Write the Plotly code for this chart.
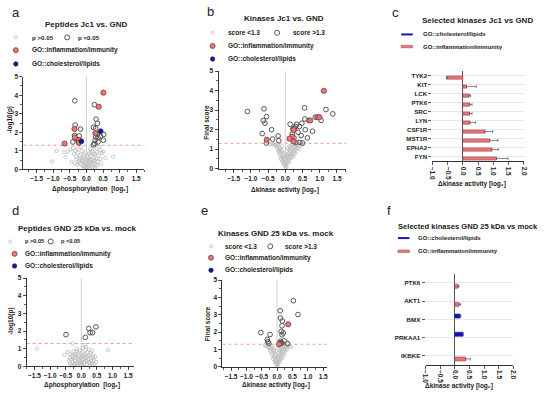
import plotly.graph_objects as go

W, H = 550, 397
FONT = "Liberation Sans"
TXT = "#222222"
AX = "#333333"
RED = "#E8767A"
RED_EDGE = "#7a3a3a"
BLUE = "#1414B4"
NS = "#C2C2C2"
SIG = "#555555"
THRESH = 1.3

# ---------------- panel a : Peptides Jc1 vs. GND ----------------
a_ns_x = [-1.04, -0.90, -0.68, -0.56, -0.63, -0.45, 0.80, 0.57, 0.47, 0.40, -0.28, -0.48,
          -0.38, -0.32, -0.30, -0.25, -0.22, -0.20, -0.18, -0.15, -0.14, -0.12, -0.10, -0.08,
          -0.06, -0.05, -0.03, -0.02, 0.00, 0.01, 0.03, 0.04, 0.06, 0.07, 0.08, 0.10, 0.11,
          0.12, 0.14, 0.15, 0.17, 0.18, 0.20, 0.21, 0.23, 0.24, 0.26, 0.28, 0.30, 0.32, 0.34,
          0.36, 0.38, 0.42, 0.44, -0.35, -0.40, -0.27, -0.16, -0.09, -0.04, 0.02, 0.05, 0.09,
          0.13, -0.11, -0.07, 0.16, 0.19, 0.22, -0.21, -0.24, 0.27, 0.31, -0.33, 0.50, -0.02,
          0.06, -0.13, 0.25]
a_ns_y = [0.42, 0.99, 0.92, 0.95, 0.65, 0.40, 0.69, 0.60, 0.88, 1.04, 1.09, 1.06,
          0.82, 0.70, 0.55, 0.90, 0.45, 0.75, 0.30, 0.60, 1.00, 0.20, 0.45, 0.80,
          0.10, 0.35, 0.55, 0.15, 0.05, 0.30, 0.60, 0.12, 0.40, 0.85, 0.22, 0.55, 1.10,
          0.35, 0.70, 0.15, 0.50, 0.95, 0.30, 0.65, 0.45, 1.15, 0.80, 0.25, 0.60, 0.95, 0.40,
          0.72, 1.20, 0.55, 0.30, 0.30, 1.15, 0.25, 1.20, 0.65, 0.90, 0.75, 0.50, 0.05,
          0.90, 0.35, 0.18, 0.38, 0.10, 0.85, 0.58, 0.38, 0.48, 0.20, 1.00, 0.95, 0.42,
          0.25, 0.52, 0.05]
a_sig_x = [-0.35, 0.24, 0.29, 0.33, -0.34, 0.21, 0.28, -0.18, -0.36, -0.22, 0.32, 0.52,
           0.28, 0.35, 0.42, 0.51, -0.41, -0.25, 0.26, 0.35, 0.25, 0.21, -0.33]
a_sig_y = [3.70, 3.49, 2.71, 2.48, 2.39, 2.27, 2.22, 2.17, 1.83, 1.80, 1.88, 1.88,
           1.74, 1.71, 1.78, 1.57, 1.48, 1.58, 1.57, 1.48, 1.39, 1.32, 1.65]
a_inf_x = [0.51, 0.37, -0.36, -0.35, 0.27, -0.22, -0.23, -0.66]
a_inf_y = [4.14, 3.38, 2.18, 1.73, 1.95, 1.58, 1.43, 1.39]
a_lip_x = [-0.15, 0.43]
a_lip_y = [1.51, 2.06]

# ---------------- panel b : Kinases Jc1 vs. GND ----------------
b_ns_x = [0.00, 0.02, -0.02, 0.04, -0.04, 0.05, -0.05, 0.07, -0.07, 0.08, -0.08, 0.10, -0.10,
          0.12, -0.12, 0.13, -0.14, 0.15, -0.15, 0.17, -0.17, 0.18, -0.19, 0.20, -0.21, 0.22,
          -0.23, 0.24, -0.25, 0.26, -0.28, 0.28, 0.30, -0.30, 0.32, 0.35, -0.35, 0.38, -0.40,
          0.01, -0.01, 0.03, 0.06, -0.06, 0.09, -0.09, 0.11, -0.11, 0.14, -0.13, 0.16, 0.19,
          0.21, 0.23, 0.25, 0.27, 0.29, 0.31, 0.40, 0.45, 0.50, -0.20, -0.16, 0.00, -0.03,
          0.02, 0.05, -0.05, 0.08, -0.10, 0.12, 0.35, -0.45]
b_ns_y = [0.15, 0.25, 0.30, 0.40, 0.35, 0.55, 0.50, 0.70, 0.60, 0.45, 0.75, 0.80, 0.90,
          0.95, 0.80, 0.60, 1.00, 1.05, 0.70, 0.85, 1.10, 1.20, 0.95, 1.00, 1.20, 1.25,
          1.05, 0.90, 1.15, 1.10, 1.25, 1.20, 1.00, 1.20, 1.15, 1.25, 1.28, 1.20, 1.28,
          0.05, 0.20, 0.10, 0.30, 0.25, 0.60, 0.40, 0.35, 0.60, 0.70, 0.50, 0.55, 0.75,
          0.70, 0.60, 0.80, 0.95, 0.80, 1.25, 1.00, 1.20, 1.25, 0.85, 0.90, 0.45, 0.60,
          0.65, 0.90, 0.80, 1.05, 1.15, 1.15, 1.05, 1.25]
b_sig_x = [-1.10, -0.62, -0.54, -0.64, -0.59, -0.40, -0.67, -0.21, -0.37, -0.55,
           -0.19, 0.56, 1.18, 1.38, 0.57, 0.68, 0.48, 0.33, 0.14, 0.41,
           0.26, 0.30, 0.22, 0.37, 0.58, 0.79, 1.04, 0.87, 0.46, 0.64,
           0.42, 0.50, 0.30, 0.20, 0.25]
b_sig_y = [2.93, 3.07, 2.67, 2.47, 2.33, 2.00, 1.80, 1.68, 1.52, 1.32,
           1.44, 3.12, 3.03, 2.81, 2.55, 2.47, 2.33, 2.28, 2.28, 2.16,
           2.07, 2.17, 2.04, 1.87, 2.00, 1.92, 2.48, 2.64, 1.70, 1.58,
           1.35, 1.32, 1.35, 1.78, 1.58]
b_inf_x = [1.12, 0.93, 0.99, 0.72, 0.24, 0.20, 0.12, 0.24, -0.54]
b_inf_y = [3.99, 2.64, 2.64, 2.47, 1.99, 1.64, 1.54, 1.40, 1.49]
b_lip_x = []
b_lip_y = []

# ---------------- panel c : Selected kinases Jc1 vs GND ----------------
c_kinases = ["TYK2", "KIT", "LCK", "PTK6", "SRC", "LYN", "CSF1R", "MST1R", "EPHA2", "FYN"]
c_values = [-0.53, 0.12, 0.20, 0.22, 0.22, 0.23, 0.72, 0.88, 0.95, 1.10]
c_err = [0.00, 0.32, 0.05, 0.08, 0.08, 0.18, 0.26, 0.27, 0.21, 0.38]
c_group = ["inflammation"] * 10

# ---------------- panel d : Peptides GND 25 kDa vs. mock ----------------
d_ns_x = [-1.43, 0.86, -0.28, -0.54, -0.43, 0.13, 0.36,
          -0.40, -0.38, -0.35, -0.33, -0.30, -0.28, -0.26, -0.24, -0.22, -0.20, -0.18, -0.16,
          -0.14, -0.12, -0.10, -0.08, -0.06, -0.04, -0.02, 0.00, 0.02, 0.04, 0.06, 0.08, 0.10,
          0.12, 0.14, 0.16, 0.18, 0.20, 0.22, 0.24, 0.26, 0.28, 0.30, 0.32, 0.34, 0.36, 0.38,
          0.40, 0.42, 0.44, -0.36, -0.25, -0.15, -0.05, 0.05, 0.15, 0.10, 0.00, -0.10, -0.20,
          0.25, 0.30, -0.32, -0.12, 0.03, 0.18, 0.27, -0.07, 0.08, 0.13, -0.17, -0.27, 0.35,
          0.21, -0.01, 0.47]
d_ns_y = [1.01, 0.92, 1.29, 0.66, 0.81, 1.23, 0.66,
          0.30, 0.50, 0.15, 0.40, 0.60, 0.25, 0.45, 0.10, 0.70, 0.35, 0.55, 0.20,
          0.85, 0.40, 0.05, 0.60, 0.30, 0.15, 0.50, 0.25, 0.75, 0.10, 0.40, 0.60, 0.20,
          0.95, 0.35, 0.55, 0.12, 0.80, 0.40, 0.25, 0.60, 0.05, 0.45, 0.30, 0.90, 0.20, 0.50,
          0.35, 0.15, 0.55, 0.70, 0.85, 1.00, 0.90, 1.05, 1.10, 0.70, 0.55, 0.75, 0.15,
          0.95, 0.75, 0.05, 0.22, 0.35, 0.30, 0.20, 0.45, 0.22, 0.48, 0.65, 0.55, 0.10,
          0.62, 0.08, 0.25]
d_sig_x = [-0.49, 0.13, 0.24, 0.28, 0.36, 0.47]
d_sig_y = [1.80, 1.65, 2.15, 1.91, 1.91, 2.24]
d_inf_x = []
d_inf_y = []
d_lip_x = []
d_lip_y = []

# ---------------- panel e : Kinases GND 25 kDa vs. mock ----------------
e_ns_x = [0.00, 0.02, -0.02, 0.03, -0.03, 0.05, -0.05, 0.06, -0.06, 0.08, -0.08, 0.09, -0.10,
          0.10, -0.12, 0.12, -0.14, 0.14, -0.16, 0.16, -0.18, 0.18, -0.20, 0.20, -0.22, 0.22,
          -0.25, 0.25, -0.28, 0.28, -0.30, 0.30, 0.35, -0.35, 0.01, -0.01, 0.04, -0.04, 0.07,
          -0.07, 0.11, -0.09, 0.13, -0.11, 0.15, -0.13, 0.17, 0.19, 0.21, 0.24, 0.27, 0.32,
          0.40, -0.15, 0.05, -0.05, 0.00, 0.08, -0.24, 0.45, 0.10, -0.40]
e_ns_y = [0.10, 0.20, 0.25, 0.35, 0.40, 0.30, 0.50, 0.55, 0.20, 0.45, 0.65, 0.70, 0.55,
          0.90, 0.80, 0.60, 0.95, 0.80, 0.70, 1.00, 1.05, 0.90, 1.15, 1.10, 0.90, 1.20,
          1.20, 1.05, 1.10, 1.25, 1.25, 1.15, 1.28, 1.20, 0.05, 0.15, 0.60, 0.30, 0.25,
          0.35, 0.40, 0.90, 1.10, 1.00, 0.50, 0.45, 0.70, 0.60, 0.85, 0.75, 0.95, 1.00,
          1.20, 1.20, 0.80, 0.75, 0.45, 1.00, 1.00, 1.15, 1.20, 1.25]
e_sig_x = [0.53, 0.68, 0.10, 0.11, 0.17, 0.16, 0.13, 0.20, 0.16, -0.53,
           -0.23, -0.32, -0.30, -0.27, 0.11, 0.13, 0.09, 0.16, 0.34, 0.23]
e_sig_y = [3.81, 3.01, 3.23, 2.81, 2.64, 2.36, 2.04, 1.95, 1.84, 1.97,
           1.86, 1.58, 1.45, 1.36, 1.47, 1.39, 1.36, 1.36, 1.34, 1.49]
e_inf_x = [0.36, 0.06]
e_inf_y = [2.45, 1.30]
e_lip_x = []
e_lip_y = []

# ---------------- panel f : Selected kinases GND 25 kDa vs mock ----------------
f_kinases = ["PTK6", "AKT1", "BMX", "PRKAA1", "IKBKE"]
f_values = [0.10, 0.14, 0.18, 0.28, 0.37]
f_err = [0.04, 0.06, 0.03, 0.00, 0.16]
f_group = ["inflammation", "inflammation", "cholesterol", "cholesterol", "inflammation"]

x_tickvals = [-1.5, -1.0, -0.5, 0.0, 0.5, 1.0, 1.5]
bar_tickvals = [-1.0, -0.5, 0.0, 0.5, 1.0, 1.5, 2.0]
y_tickvals = [0, 1, 2, 3, 4, 5]

# ---------------- figure ----------------
fig = go.Figure()


def px(x):
    return x / W


def py(y):
    return 1 - y / H


def axname(i):
    return ("x", "y") if i == 1 else (f"x{i}", f"y{i}")


def volcano(i, ns_x, ns_y, sig_x, sig_y, inf_x, inf_y, lip_x, lip_y):
    xa, ya = axname(i)
    fig.add_shape(type="line", xref=f"{xa} domain", yref=ya, x0=0, x1=1, y0=THRESH, y1=THRESH,
                  line=dict(color="#F08C8C", width=0.9, dash="dot"), layer="below")
    fig.add_shape(type="line", xref=xa, yref=f"{ya} domain", x0=0, x1=0, y0=0, y1=1,
                  line=dict(color="#D0D0D0", width=1), layer="below")
    fig.add_trace(go.Scatter(x=ns_x, y=ns_y, mode="markers", xaxis=xa, yaxis=ya,
                             marker=dict(symbol="circle-open", size=3.4, color=NS,
                                         line=dict(width=0.9)),
                             showlegend=False, hoverinfo="skip"))
    fig.add_trace(go.Scatter(x=sig_x, y=sig_y, mode="markers", xaxis=xa, yaxis=ya,
                             marker=dict(symbol="circle-open", size=4.7, color=SIG,
                                         line=dict(width=1.0)),
                             showlegend=False, hoverinfo="skip"))
    if inf_x:
        fig.add_trace(go.Scatter(x=inf_x, y=inf_y, mode="markers", xaxis=xa, yaxis=ya,
                                 marker=dict(symbol="circle", size=5.2, color=RED,
                                             line=dict(width=0.8, color=RED_EDGE)),
                                 showlegend=False, hoverinfo="skip"))
    if lip_x:
        fig.add_trace(go.Scatter(x=lip_x, y=lip_y, mode="markers", xaxis=xa, yaxis=ya,
                                 marker=dict(symbol="circle", size=4.8, color=BLUE,
                                             line=dict(width=0.7, color="#222")),
                                 showlegend=False, hoverinfo="skip"))


volcano(1, a_ns_x, a_ns_y, a_sig_x, a_sig_y, a_inf_x, a_inf_y, a_lip_x, a_lip_y)
volcano(2, b_ns_x, b_ns_y, b_sig_x, b_sig_y, b_inf_x, b_inf_y, b_lip_x, b_lip_y)
volcano(4, d_ns_x, d_ns_y, d_sig_x, d_sig_y, d_inf_x, d_inf_y, d_lip_x, d_lip_y)
volcano(5, e_ns_x, e_ns_y, e_sig_x, e_sig_y, e_inf_x, e_inf_y, e_lip_x, e_lip_y)


def bars(i, kinases, values, errs, groups, red_off, blue_off, bw):
    xa, ya = axname(i)
    for grp, col, edge, off in (("cholesterol", BLUE, BLUE, blue_off),
                                ("inflammation", RED, "#A04848", red_off)):
        ks = [k for k, g in zip(kinases, groups) if g == grp]
        if not ks:
            continue
        vs = [v for v, g in zip(values, groups) if g == grp]
        es = [e for e, g in zip(errs, groups) if g == grp]
        fig.add_trace(go.Bar(y=ks, x=vs, orientation="h", xaxis=xa, yaxis=ya,
                             offset=off, width=bw,
                             marker=dict(color=col, line=dict(color=edge, width=0.6)),
                             error_x=dict(type="data", symmetric=False, array=es,
                                          arrayminus=[0] * len(es), color="#555",
                                          thickness=0.7, width=1.5),
                             showlegend=False, hoverinfo="skip"))


bars(3, c_kinases, c_values, c_err, c_group, 0.0, -0.36, 0.36)
bars(6, f_kinases, f_values, f_err, f_group, 0.07, -0.29, 0.22)

tickfont = dict(family=FONT, size=6.5, color=TXT, weight="bold")


def vol_axes(i, xdom, ydom, xrange):
    xa, ya = axname(i)
    xk = "xaxis" if i == 1 else f"xaxis{i}"
    yk = "yaxis" if i == 1 else f"yaxis{i}"
    fig.layout[xk] = dict(domain=[px(xdom[0]), px(xdom[1])], range=xrange, anchor=ya,
                          showline=True, linecolor=AX, linewidth=1, ticks="outside",
                          ticklen=3, tickwidth=0.8, tickcolor=AX, tickvals=x_tickvals,
                          tickformat=".1f", tickangle=0, tickfont=tickfont, showgrid=False,
                          zeroline=False,
                          minor=dict(dtick=0.25, tick0=0, ticks="outside", ticklen=2,
                                     tickcolor=AX, tickwidth=0.8, showgrid=False))
    fig.layout[yk] = dict(domain=[py(ydom[1]), py(ydom[0])], range=[0, 5], anchor=xa,
                          showline=True, linecolor=AX, linewidth=1, ticks="outside",
                          ticklen=3, tickwidth=0.8, tickcolor=AX, tickvals=y_tickvals,
                          tickfont=tickfont, showgrid=False, zeroline=False,
                          minor=dict(dtick=0.5, tick0=0, ticks="outside", ticklen=2,
                                     tickcolor=AX, tickwidth=0.8, showgrid=False))


vol_axes(1, (20.7, 143.3), (74, 168.3), [-1.9, 1.75])
vol_axes(2, (218.3, 347.7), (68.3, 167.7), [-1.94, 1.77])
vol_axes(4, (24, 133), (279, 369), [-1.75, 1.7])
vol_axes(5, (222.3, 328), (281, 369.3), [-1.78, 1.62])


def bar_axes(i, xdom, ydom, cats):
    xa, ya = axname(i)
    xk = f"xaxis{i}"
    yk = f"yaxis{i}"
    fig.layout[xk] = dict(domain=[px(xdom[0]), px(xdom[1])], range=[-1, 2], anchor=ya,
                          showline=True, linecolor=AX, linewidth=1, ticks="outside",
                          ticklen=3, tickwidth=0.8, tickcolor=AX, tickvals=bar_tickvals,
                          tickformat=".1f", tickangle=90, tickfont=tickfont, showgrid=False,
                          zeroline=True, zerolinecolor="#555", zerolinewidth=1)
    fig.layout[yk] = dict(domain=[py(ydom[1]), py(ydom[0])], type="category",
                          categoryorder="array", categoryarray=cats,
                          range=[len(cats) - 0.5, -0.5], anchor=xa, showline=False,
                          ticks="outside", ticklen=3, tickwidth=0.8, tickcolor=AX,
                          tickfont=dict(family=FONT, size=6.2, color=TXT, weight="bold"),
                          showgrid=True, gridcolor="#E2E2E2", gridwidth=0.8, zeroline=False)


bar_axes(3, (435, 527.5), (68.7, 160.2), c_kinases)
bar_axes(6, (428, 517), (274.75, 367.25), f_kinases)

# ---------------- texts ----------------
ann = []


def text(x, y, s, size=6.5, bold=True, anchor="left", angle=0):
    ann.append(dict(x=px(x), y=py(y), xref="paper", yref="paper", text=s, showarrow=False,
                    xanchor=anchor, yanchor="middle", textangle=angle,
                    font=dict(family=FONT, size=size, color=TXT,
                              weight="bold" if bold else "normal")))


for lt, (x, y) in zip("abcdef", [(13, 9), (210, 8), (398, 9), (13, 210), (204, 210), (391, 210)]):
    text(x, y, lt, size=13, bold=False, anchor="center")

text(84, 21, "Peptides Jc1 vs. GND", 8, anchor="center")
text(285, 15, "Kinases Jc1 vs. GND", 8, anchor="center")
text(481, 17.3, "Selected kinases Jc1 vs GND", 8, anchor="center")
text(75, 228.3, "Peptides GND 25 kDa vs. mock", 8, anchor="center")
text(276.7, 233.3, "Kinases GND 25 kDa vs. mock", 8, anchor="center")
text(398, 226.7, "Selected kinases GND 25 kDa vs mock", 7.6, anchor="left")

phos = "Δphosphorylation  [log₂]"
kin = "Δkinase activity [log₂]"
text(88, 188.5, phos, anchor="center")
text(7.3, 118.3, "-log10(p)", anchor="center", angle=-90)
text(286, 189, kin, anchor="center")
text(206.5, 120, "Final score", anchor="center", angle=-90)
text(475, 183.5, kin, anchor="center")
text(80, 388, phos, anchor="center")
text(7.3, 323.3, "-log10(p)", anchor="center", angle=-90)
text(276.7, 388, kin, anchor="center")
text(206.5, 325, "Final score", anchor="center", angle=-90)
text(461.7, 388.8, kin, anchor="center")

shapes = []


def circ(cx, cy, d, fill, line, lw):
    shapes.append(dict(type="circle", xref="paper", yref="paper", xsizemode="pixel",
                       ysizemode="pixel", xanchor=px(cx), yanchor=py(cy),
                       x0=-d / 2, x1=d / 2, y0=-d / 2, y1=d / 2,
                       fillcolor=fill, line=dict(color=line, width=lw)))


def rect(x0, x1, cy, h, fill, line, lw):
    shapes.append(dict(type="rect", xref="paper", yref="paper", x0=px(x0), x1=px(x1),
                       y0=py(cy + h / 2), y1=py(cy - h / 2), fillcolor=fill,
                       line=dict(color=line, width=lw)))


def vol_legend(c1, t1, c2, t2, r1, r2, r3, cx2, lab1, lab2, s1=6.5):
    circ(c1, r1, 3, "rgba(0,0,0,0)", NS, 0.9)
    text(t1, r1, lab1, s1)
    circ(c2, r1, 5, "rgba(0,0,0,0)", SIG, 1.0)
    text(t2, r1, lab2, s1)
    circ(cx2, r2, 5, RED, RED_EDGE, 0.8)
    text(t1, r2, "GO::inflammation/immunity")
    circ(cx2, r3, 4.5, BLUE, "#222", 0.6)
    text(t1, r3, "GO::cholesterol/lipids")


vol_legend(13, 27, 65, 74, 34, 47, 61, 13, "p &gt;0.05", "p &lt;0.05", 6.2)
vol_legend(212.3, 225.7, 277.7, 291.7, 29.3, 42.7, 56, 212.3, "score &lt;1.3", "score &gt;1.3")
vol_legend(7.3, 20, 48.3, 56.7, 241.7, 254.3, 266.7, 11.7, "p &gt;0.05", "p &lt;0.05", 5.6)
vol_legend(210.7, 223.3, 270.7, 283.3, 246.7, 258.3, 271, 210.7, "score &lt;1.3", "score &gt;1.3")

rect(403.3, 415, 31, 2, BLUE, BLUE, 0)
text(423.3, 31, "GO::cholesterol/lipids", 6)
rect(403.3, 415, 43.3, 2.6, RED, "#A04848", 0.5)
text(423.3, 43.3, "GO::inflammation/immunity", 6)
rect(400, 411.7, 238.3, 2, BLUE, BLUE, 0)
text(418.3, 238.3, "GO::cholesterol/lipids", 6)
rect(400, 411.7, 251.7, 2.6, RED, "#A04848", 0.5)
text(418.3, 251.7, "GO::inflammation/immunity", 6)

fig.update_layout(width=W, height=H, margin=dict(l=0, r=0, t=0, b=0),
                  paper_bgcolor="white", plot_bgcolor="white", showlegend=False,
                  font=dict(family=FONT, color=TXT), annotations=ann,
                  shapes=list(fig.layout.shapes) + shapes)

fig.write_html("out.html", config={"displayModeBar": False, "staticPlot": True},
               post_script="document.body.style.margin='0';document.body.style.overflow='hidden';")
